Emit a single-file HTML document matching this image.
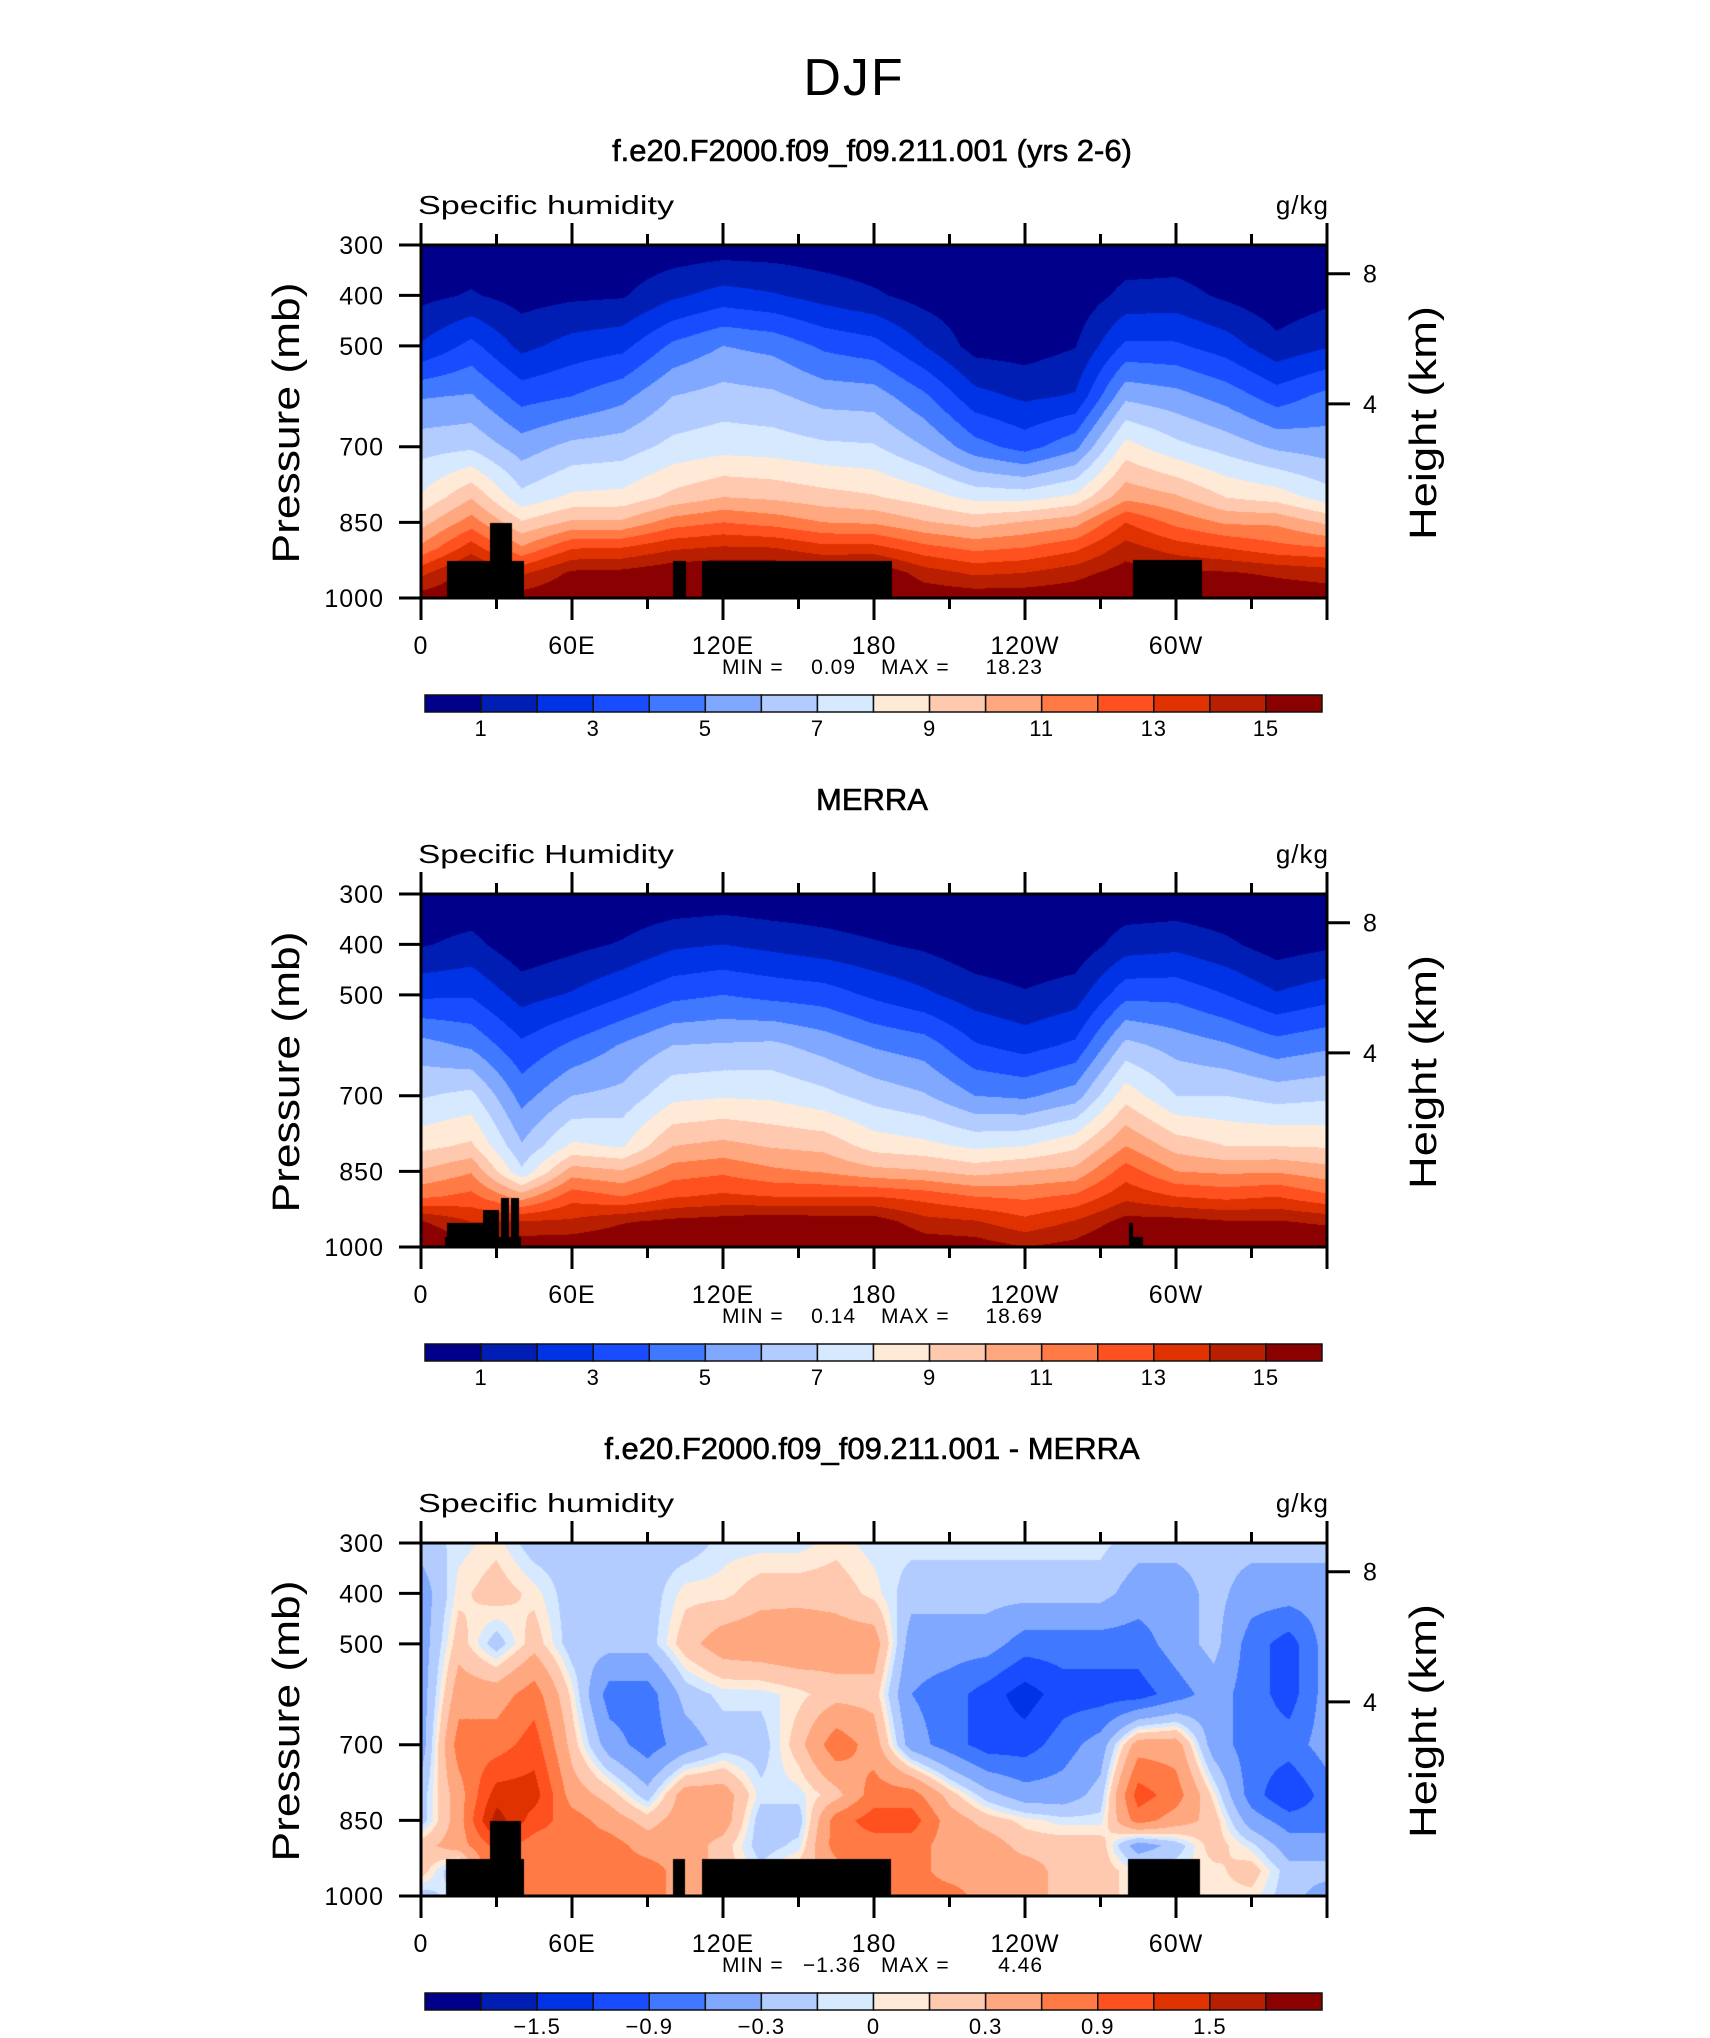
<!DOCTYPE html>
<html><head><meta charset="utf-8">
<style>
html,body{margin:0;padding:0;background:#fff;}
#root{position:relative;width:1710px;height:2038px;overflow:hidden;background:#fff;font-family:"Liberation Sans",sans-serif;}
canvas{position:absolute;}
svg{position:absolute;left:0;top:0;}
</style></head>
<body>
<div id="root">
<canvas id="c1" width="906" height="353" style="left:421px;top:245px"></canvas>
<canvas id="c2" width="906" height="353" style="left:421px;top:894px"></canvas>
<canvas id="c3" width="906" height="353" style="left:421px;top:1543px"></canvas>
<svg id="ov" width="1710" height="2038"></svg>
</div>
<script>
// ---- data ----
const presLevels = [300,400,500,600,700,800,850,900,950,1000];
const lonsQ = [0,20,40,60,80,100,120,140,160,180,200,220,240,260,280,300,320,340,360];
const q1Cols = [
[0.3,0.7,2.1,4.9,6.6,8.1,9.6,11.2,13.7,15.5],
[0.3,1.1,3.3,5.1,6.8,9.9,11.5,13.5,15.5,16],
[0.2,0.6,1.7,3.6,5.5,7.3,9.1,11.1,13.8,15.5],
[0.2,0.8,2.4,4.0,6.3,8.2,10.2,12.9,15.2,16],
[0.2,0.9,2.7,4.7,6.5,8.3,10.2,13,15.3,16],
[0.3,1.8,4.2,6.0,7.3,9.3,11.5,13.8,15.8,16.5],
[0.4,2.4,5.0,6.4,7.6,10.0,12.0,14.1,16,17],
[0.4,2.1,4.7,6.2,7.5,9.8,11.6,14.0,16,17],
[0.3,1.6,3.8,5.6,7.2,9.4,11.0,13.3,15.7,16.5],
[0.2,1.15,3.4,5.5,7.1,9.1,10.85,13.3,16,16.5],
[0.2,0.6,2.0,4.2,6.0,8.5,10.1,12.3,14.5,15.8],
[0.1,0.3,0.6,2.35,4.4,7.7,9.6,11.7,13.8,15.7],
[0.1,0.2,0.5,1.8,3.6,7.6,10.1,12,14,15.7],
[0.1,0.3,0.95,2.1,4.7,8.25,10.6,12.7,14.6,15.8],
[0.3,1.3,3.2,5.75,8.4,10.7,13,14.4,15.5,16.5],
[0.3,1.4,3.15,5.35,7.3,10.15,11.7,13.5,15.2,16.3],
[0.1,0.8,2.5,4.6,6.6,8.97,10.85,12.96,15.1,16.2],
[0.1,0.3,1.3,3.5,5.8,8.55,10.8,12.3,14.8,15.8],
[0.2,0.7,1.9,4.3,5.5,7.5,9.8,12,14.5,15.7]
];
const q2Cols = [
[0.2,0.9,2.8,5.4,6.9,8.7,10.1,11.8,15.1,16.5],
[0.2,1.3,2.9,4.8,7.3,9.2,10.9,12.3,14,15],
[0.1,0.3,1.6,3.2,4.6,6.1,7.2,10.5,14.1,15.7],
[0.1,0.7,2.1,4.2,6.0,8.2,10.5,12.6,14.2,15.8],
[0.1,1.1,2.9,5.1,6.3,7.9,10.1,12,14.9,16],
[0.2,1.8,3.7,6.0,7.7,10,11.5,12.9,15.3,16.5],
[0.3,2.0,4.0,6.1,7.9,10.3,11.8,13.2,15.5,16.5],
[0.2,1.7,3.7,6.2,7.8,9.9,11.2,13,15.8,16.5],
[0.2,1.4,3.5,5.6,7.3,9.7,10.9,13,15.6,16.5],
[0.1,1.1,2.8,4.9,6.6,8.6,10.3,13,15.6,16.5],
[0.1,0.8,2.2,4.5,6.1,8.3,10.1,12.6,14.4,15.7],
[0.1,0.3,1.5,3.1,5.0,7.8,9.6,12,14.1,15.6],
[0.1,0.2,1.1,2.6,4.8,8.0,10,11.8,13.3,15.0],
[0.1,0.3,1.5,3.2,5.5,8.8,10.3,12.2,14.1,15.4],
[0.2,1.5,3.7,6.3,8.6,11,12.5,13.7,15.4,16.5],
[0.2,1.7,3.7,5.6,7.0,9.6,11,13,15.4,16.4],
[0.1,1.2,3.0,5.1,7.0,9.0,10.8,12.7,15.1,16],
[0.1,0.5,2.1,4.4,6.6,9.0,10.9,13,15.1,16],
[0.1,0.8,2.6,4.8,6.8,8.9,10.4,12.2,14.8,16.2]
];
const lonsD = [0,15,30,45,60,75,90,105,120,135,150,165,180,195,210,225,240,255,270,285,300,315,330,345,360];
const dCols = [
[-0.2,-0.45,-0.45,-0.45,-0.45,-0.2,-0.2,0.2,0.2,-0.2],
[-0.05,0.05,0.2,0.45,0.75,0.45,0.45,0.45,-0.3,0],
[0.05,0.2,-0.2,0.45,0.75,1.35,1.65,1.0,1.0,1.0],
[-0.2,0.05,0.2,0.75,1.05,1.35,1.05,0.75,0.75,0.75],
[-0.2,-0.2,-0.2,0.05,0.2,0.45,0.75,0.75,0.75,0.75],
[-0.2,-0.2,-0.2,-0.75,-0.45,0.2,0.45,0.75,0.75,0.75],
[-0.2,-0.2,-0.2,-0.75,-0.75,-0.2,0.2,0.45,0.75,0.75],
[-0.2,0.05,0.2,-0.2,-0.45,0.45,0.45,0.45,0.45,0.45],
[-0.05,0.05,0.45,-0.05,-0.2,0.45,0.45,0.2,0.2,0.2],
[-0.05,0.2,0.5,-0.05,-0.2,-0.05,-0.2,-0.2,-0.05,0],
[-0.05,0.2,0.55,0.05,0.2,-0.05,-0.2,-0.05,0.2,0.2],
[0.05,0.2,0.45,0.2,0.8,0.2,0.75,0.75,0.45,0.45],
[-0.05,0.05,0.45,0.2,0.45,0.75,1.05,0.75,0.75,0.75],
[-0.05,-0.2,-0.45,-0.6,-0.45,0.75,1.05,0.75,0.75,0.75],
[-0.05,-0.2,-0.45,-0.75,-0.75,0.2,0.45,0.45,0.45,0.75],
[-0.05,-0.2,-0.45,-1.05,-1.05,-0.2,0.2,0.45,0.45,0.45],
[-0.05,-0.2,-0.75,-1.35,-1.05,-0.45,0.05,0.2,0.45,0.45],
[-0.05,-0.2,-0.75,-1.05,-0.75,-0.45,-0.05,0.2,0.2,0.2],
[-0.05,-0.2,-0.75,-1.05,-0.45,-0.2,-0.05,0.2,0.2,0.2],
[-0.2,-0.45,-0.75,-1.05,0.45,1.05,0.75,-0.45,0,0],
[-0.2,-0.45,-0.45,-0.75,0.45,0.75,0.45,-0.2,0,0],
[-0.2,-0.2,-0.2,-0.45,-0.45,0.05,0.2,0.2,0.05,0.05],
[-0.2,-0.45,-0.75,-0.75,-0.75,-0.75,-0.45,-0.05,0.2,0.05],
[-0.2,-0.45,-1.05,-1.05,-0.75,-1.2,-0.75,-0.45,-0.2,-0.2],
[-0.2,-0.45,-0.45,-0.45,-0.45,-0.75,-0.75,-0.45,-0.2,-0.45]
];
const qLevels = [1,2,3,4,5,6,7,8,9,10,11,12,13,14,15];
const dLevels = [-1.8,-1.5,-1.2,-0.9,-0.6,-0.3,-0.1,0,0.1,0.3,0.6,0.9,1.2,1.5,1.8];
const palette = ["#00008a","#001eb4","#0032e6","#1a4cff","#4078ff","#80a8ff","#b3ccff","#d6e9ff","#ffead8","#ffc9b0","#ffa880","#ff7a45","#ff5020","#e03200","#b81e00","#8b0000"];
const mask1 = [[10.2,41,926],[27.6,36,851],[100.3,105.1,926],[111.6,187.1,926],[283,310.4,925]];
const mask2 = [[9.5,39.6,980],[10.2,24.5,953],[24.5,31.1,927],[31.7,35,903],[35.6,39,903],[281.2,283,953],[283,287,980]];
const mask3 = [[9.8,40.9,927],[27.4,39.8,851],[100.3,104.9,927],[111.6,186.6,927],[281.1,309.6,927]];
const xTickLons = [0,60,120,180,240,300];
const xTickLabels = ["0","60E","120E","180","120W","60W"];
const pTicks = [300,400,500,700,850,1000];
const hTickLabels = ["8","4"];
const hTickPres = [357,615];
const cbLabelsQ = ["1","3","5","7","9","11","13","15"];
const cbLabelIdxQ = [0,2,4,6,8,10,12,14];
const cbLabelsD = ["\u22121.5","\u22120.9","\u22120.3","0","0.3","0.9","1.5"];
const cbLabelIdxD = [1,3,5,7,9,11,13];
const panelTitles = ["f.e20.F2000.f09_f09.211.001 (yrs 2-6)","MERRA","f.e20.F2000.f09_f09.211.001 - MERRA"];
const leftStrings = ["Specific humidity","Specific Humidity","Specific humidity"];
const minVals = ["0.09","0.14","\u22121.36"];
const maxVals = ["18.23","18.69","4.46"];

// ---- geometry ----
const W=906,H=353,L=421;
const tops=[245,894,1543];
function xOf(lon){return L+lon/360*W;}
function yOf(p,top){return top+(p-300)/700*H;}

function hex(c){return [parseInt(c.substr(1,2),16),parseInt(c.substr(3,2),16),parseInt(c.substr(5,2),16)];}
const rgb = palette.map(hex);

function findIdx(arr,v){
  for(let i=0;i<arr.length-1;i++){ if(v<=arr[i+1]) return i; }
  return arr.length-2;
}
function renderField(id,cols,lons,levels,mask){
  const cv=document.getElementById(id);
  const ctx=cv.getContext('2d');
  const img=ctx.createImageData(W,H);
  const d=img.data;
  for(let py=0;py<H;py++){
    const p=300+(py+0.5)/H*700;
    const j=findIdx(presLevels,p);
    const tp=(p-presLevels[j])/(presLevels[j+1]-presLevels[j]);
    for(let px=0;px<W;px++){
      const lon=(px+0.5)/W*360;
      const i=findIdx(lons,lon);
      const tl=(lon-lons[i])/(lons[i+1]-lons[i]);
      const a=cols[i][j]*(1-tp)+cols[i][j+1]*tp;
      const b=cols[i+1][j]*(1-tp)+cols[i+1][j+1]*tp;
      const v=a*(1-tl)+b*tl;
      let k=0; while(k<levels.length && v>=levels[k]) k++;
      let c=rgb[k];
      for(const m of mask){ if(lon>=m[0]&&lon<=m[1]&&p>=m[2]){c=[0,0,0];break;} }
      const o=(py*W+px)*4;
      d[o]=c[0];d[o+1]=c[1];d[o+2]=c[2];d[o+3]=255;
    }
  }
  ctx.putImageData(img,0,0);
}
renderField('c1',q1Cols,lonsQ,qLevels,mask1);
renderField('c2',q2Cols,lonsQ,qLevels,mask2);
renderField('c3',dCols,lonsD,dLevels,mask3);

// ---- overlay ----
const NS="http://www.w3.org/2000/svg";
const svg=document.getElementById('ov');
function mk(tag,attrs){
  const e=document.createElementNS(NS,tag);
  for(const k in attrs) e.setAttribute(k,attrs[k]);
  svg.appendChild(e); return e;
}
function txt(s,x,y,size,anchor,extra){
  const e=mk('text',Object.assign({x:x,y:y,'font-size':size,'text-anchor':anchor||'middle','font-family':'Liberation Sans, sans-serif',fill:'#000'},extra||{}));
  e.textContent=s; return e;
}

let t=txt("DJF",854,95,52,'middle',{'letter-spacing':'2'});



for(let k=0;k<3;k++){
  const top=tops[k], off=k*649;
  const bot=top+H;
  let e=txt(panelTitles[k],872,161+off,31,'middle',{'stroke':'#000','stroke-width':'0.6'});
  
  
  e=txt(leftStrings[k],418,214+off,26,'start',{textLength:256,lengthAdjust:'spacingAndGlyphs'});
  
  
  e=txt("g/kg",1329,214+off,26,'end',{'letter-spacing':'1'});
  
  
  e=mk('rect',{x:L,y:top,width:W,height:H,fill:'none',stroke:'#000','stroke-width':3});
  
  
  for(const p of pTicks){
    const y=yOf(p,top);
    e=mk('line',{x1:L-22,y1:y,x2:L,y2:y,stroke:'#000','stroke-width':3});
    
    
    e=txt(String(p),384,y+9,25,'end',{'letter-spacing':'1'});
    
    
  }
  for(let h=0;h<hTickLabels.length;h++){
    const y=yOf(hTickPres[h],top);
    e=mk('line',{x1:L+W,y1:y,x2:L+W+23,y2:y,stroke:'#000','stroke-width':3});
    
    
    e=txt(hTickLabels[h],1370,y+9,25,'middle');
    
    
  }
  for(let lon=0;lon<=360;lon+=30){
    const x=xOf(lon);
    const major=(lon%60===0);
    const len=major?22:11;
    e=mk('line',{x1:x,y1:top,x2:x,y2:top-len,stroke:'#000','stroke-width':3});
    
    
    e=mk('line',{x1:x,y1:bot,x2:x,y2:bot+len,stroke:'#000','stroke-width':3});
    
    
  }
  for(let i=0;i<xTickLons.length;i++){
    e=txt(xTickLabels[i],xOf(xTickLons[i]),654+off,25,'middle',{'letter-spacing':'1'});
    
    
  }
  e=txt("Pressure (mb)",0,0,38,'middle',{transform:'translate(299,'+(423+off)+') rotate(-90)',textLength:281,lengthAdjust:'spacingAndGlyphs'});
  
  
  e=txt("Height (km)",0,0,38,'middle',{transform:'translate(1436,'+(423+off)+') rotate(-90)',textLength:234,lengthAdjust:'spacingAndGlyphs'});
  
  
  e=txt("MIN =",722,674+off,21,'start',{'letter-spacing':'1'});
  
  
  e=txt(minVals[k],k===2?861:856,674+off,21,'end',{'letter-spacing':'1'});
  
  
  e=txt("MAX =",881,674+off,21,'start',{'letter-spacing':'1'});
  
  
  e=txt(maxVals[k],1043,674+off,21,'end',{'letter-spacing':'1'});
  
  
  const cbx=425, cbw=897, cby=695+off, cbh=17, bw=cbw/16;
  for(let i=0;i<16;i++){
    e=mk('rect',{x:cbx+i*bw,y:cby,width:bw,height:cbh,fill:palette[i],stroke:'#111','stroke-width':1.5});
    
    
  }
  const labs=k===2?cbLabelsD:cbLabelsQ, idx=k===2?cbLabelIdxD:cbLabelIdxQ;
  for(let i=0;i<labs.length;i++){
    e=txt(labs[i],cbx+(idx[i]+1)*bw,736+off,22,'middle',{'letter-spacing':'1'});
    
    
  }
}
</script>
</body></html>
